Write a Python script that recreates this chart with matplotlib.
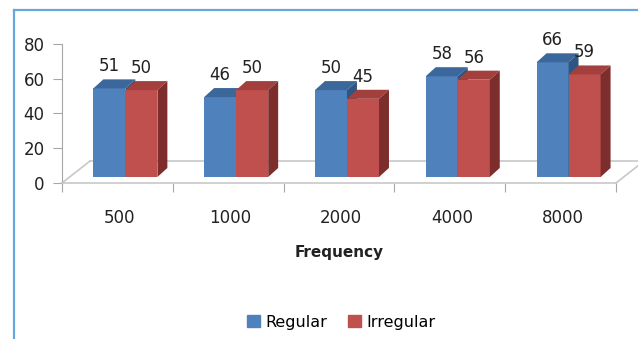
import matplotlib.pyplot as plt
from matplotlib.patches import Polygon, Patch
from matplotlib.lines import Line2D
import numpy as np

# datos
categorias = ['500', '1000', '2000', '4000', '8000']
regular = [51, 46, 50, 58, 66]
irregular = [50, 50, 45, 56, 59]
series = ['Regular', 'Irregular']

# colores estilo Excel 2007
azul = '#4F81BD'
azul_top = '#3B679A'
azul_lado = '#2F5683'
rojo = '#C0504D'
rojo_top = '#A3403D'
rojo_lado = '#7D2E2C'
gris = '#a6a6a6'
gris_piso = '#c8c8c8'

W, H = 638, 339
fig = plt.figure(figsize=(W / 100, H / 100), dpi=100)
ax = fig.add_axes([62 / W, 1 - 183 / H, (616 - 62) / W, (183 - 44) / H])
ax.set_xlim(0, 5)
ax.set_ylim(0, 80)

# parametros de la pseudo-perspectiva
base = 3.45       # las barras arrancan un poco arriba del borde frontal del piso
ancho = 0.289
x_off = 0.283
dx, dy = 0.09, 5.2          # desplazamiento de la profundidad de cada barra
px, py = 0.253, 12.66       # profundidad del piso

# piso (linea trasera y diagonales)
for x0 in [0, 5]:
    ax.add_line(Line2D([x0, x0 + px], [0, py], color=gris_piso, lw=1.2,
                       clip_on=False, zorder=1))
ax.add_line(Line2D([px, 5 + px], [py, py], color=gris_piso, lw=1.2,
                   clip_on=False, zorder=1))


def barra_3d(x, h, c_front, c_top, c_lado, z):
    ax.bar(x, h, width=ancho, bottom=base, align='edge', color=c_front,
           zorder=z, linewidth=0)
    y1 = base + h
    top = Polygon([[x, y1], [x + ancho, y1], [x + ancho + dx, y1 + dy],
                   [x + dx, y1 + dy]], closed=True, color=c_top, lw=0,
                  zorder=z)
    lado = Polygon([[x + ancho, base], [x + ancho + dx, base + dy],
                    [x + ancho + dx, y1 + dy], [x + ancho, y1]], closed=True,
                   color=c_lado, lw=0, zorder=z)
    ax.add_patch(top)
    ax.add_patch(lado)
    ax.text(x + ancho / 2, y1 + dy + 7.5, str(h), ha='center', va='center',
            fontsize=12, color='#222222', zorder=10)


idx = np.arange(len(categorias))
for i in idx:
    xb = i + x_off
    barra_3d(xb, regular[i], azul, azul_top, azul_lado, 3)
    barra_3d(xb + ancho, irregular[i], rojo, rojo_top, rojo_lado, 4)

# ejes
for s in ['top', 'right']:
    ax.spines[s].set_visible(False)
ax.spines['left'].set_color(gris)
ax.spines['bottom'].set_color(gris_piso)
ax.spines['bottom'].set_linewidth(1.2)

ax.set_yticks([0, 20, 40, 60, 80])
ax.tick_params(axis='y', direction='out', length=6.5, color=gris, pad=6,
               labelsize=12, labelcolor='#222222')

ax.set_xticks(np.arange(0, 6))
ax.set_xticklabels([])
ax.tick_params(axis='x', which='major', direction='out', length=6.5,
               color=gris)
ax.set_xticks(idx + 0.52, minor=True)
ax.set_xticklabels(categorias, minor=True)
ax.tick_params(axis='x', which='minor', length=0, pad=19, labelsize=12,
               labelcolor='#222222')
ax.set_xlabel('Frequency', fontsize=11, fontweight='bold', labelpad=12.5,
              color='#222222')

# leyenda
manijas = [Patch(color=azul), Patch(color=rojo)]
fig.legend(manijas, series, loc='center', bbox_to_anchor=(341 / W, 1 - 322 / H),
           ncol=2, frameon=False, fontsize=11.5, handlelength=0.8,
           handleheight=0.8, handletextpad=0.35, columnspacing=1.3)

# borde azul del recuadro
fig.add_artist(Line2D([14 / W, 14 / W], [0, 1 - 10 / H], color='#6aa6de',
                      lw=1.6, transform=fig.transFigure))
fig.add_artist(Line2D([14 / W, 1], [1 - 10 / H, 1 - 10 / H], color='#6aa6de',
                      lw=1.6, transform=fig.transFigure))

fig.savefig('out.png', dpi=100)
